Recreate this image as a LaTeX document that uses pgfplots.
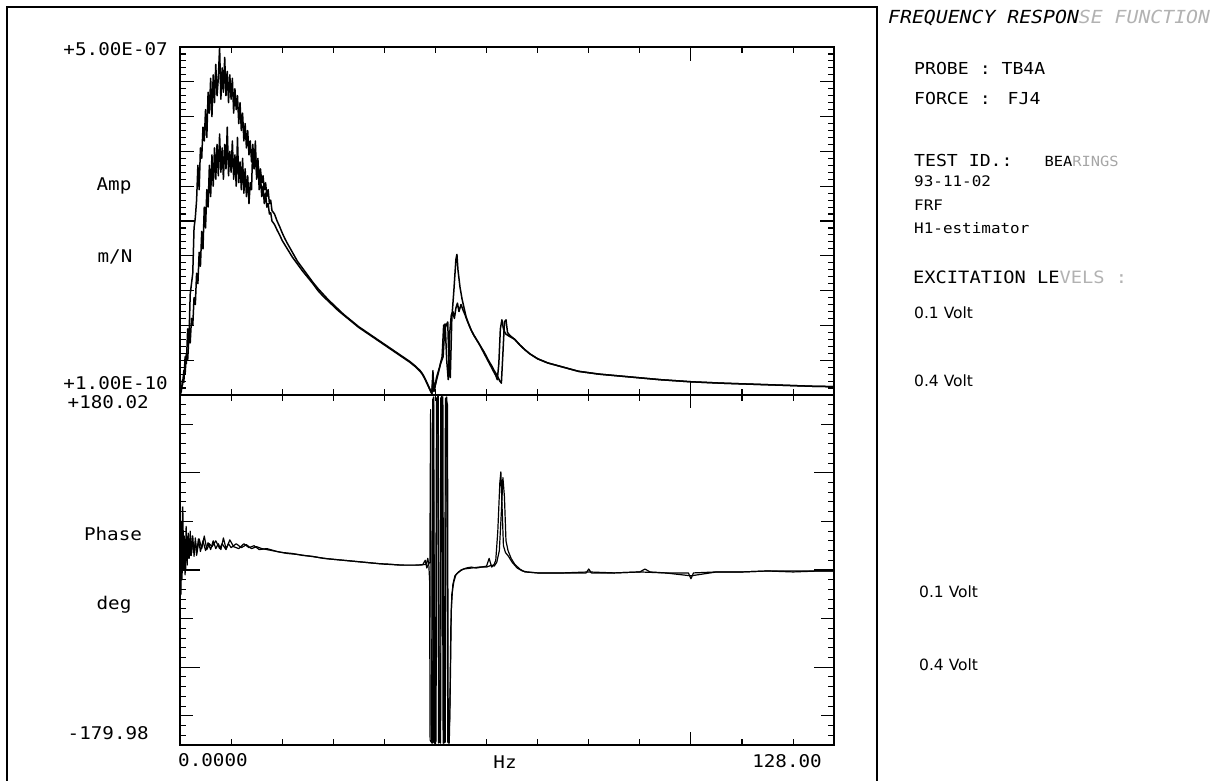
\documentclass[border=0pt]{standalone}
\usepackage{pgfplots}
\pgfplotsset{compat=1.18}
\usepackage{pgfplotstable}
\usepackage{fontspec}
\setmainfont{DejaVu Sans Mono}[FakeStretch=1.1]
\newfontfamily\plotfont{DejaVu Sans Mono}[FakeStretch=1.1]
\newfontfamily\voltfont{DejaVu Sans}

\pgfplotstableread{
f v
0 0
0.25 0.05
0.5 0.22
0.75 0.18
1 0.55
1.25 0.45
1.5 0.95
1.75 0.8
2 1.45
2.25 1.6
2.5 1.75
2.75 2.4
3 2.55
3.25 2.8
3.5 3.3
3.75 2.95
4 3.55
4.25 3.4
4.5 3.85
4.75 3.65
5 4.1
5.25 3.7
5.5 4.35
5.75 4.05
6 4.55
6.25 4.0
6.5 4.6
6.75 4.2
7 4.75
7.25 4.3
7.5 4.55
7.75 5.0
8 4.25
8.25 4.7
8.5 4.35
8.75 4.85
9 4.3
9.25 4.65
9.5 4.2
9.75 4.6
10 4.25
10.25 4.55
10.5 4.05
10.75 4.4
11 4.1
11.25 4.3
11.5 3.9
11.75 4.2
12 3.8
12.25 4.05
12.5 3.65
12.75 3.9
13 3.55
13.25 3.8
13.5 3.45
13.75 3.65
14 3.35
14.25 3.55
14.5 3.25
14.75 3.45
15 3.2
15.25 3.35
15.5 3.1
15.75 3.25
16 3.05
16.25 3.15
16.5 2.95
16.75 3.05
17 2.85
17.25 2.95
17.5 2.75
17.75 2.8
18 2.65
18.5 2.6
19 2.5
19.5 2.42
20 2.33
20.5 2.25
21 2.18
22 2.05
23 1.92
24 1.82
25 1.72
26 1.62
27 1.53
28 1.45
29 1.37
30 1.3
31 1.23
32 1.16
33 1.1
34 1.04
35 0.98
36 0.93
37 0.88
38 0.83
39 0.78
40 0.73
41 0.68
42 0.63
43 0.58
44 0.53
45 0.48
46 0.42
47 0.35
47.5 0.3
48 0.23
48.5 0.15
49 0.07
49.3 0.02
49.5 0.35
49.7 0.05
50 0.15
50.5 0.3
51 0.45
51.5 0.55
51.8 0.95
52.1 1.0
52.4 1.05
52.7 0.3
52.9 0.25
53.2 1.1
53.6 1.5
54 1.95
54.2 2.02
54.4 1.8
54.8 1.55
55.2 1.38
55.6 1.25
56 1.12
56.5 1.02
57 0.93
57.5 0.86
58 0.8
58.5 0.74
59 0.67
59.5 0.6
60 0.53
60.5 0.46
61 0.39
61.5 0.32
61.8 0.28
62.1 0.22
62.4 0.45
62.7 0.95
63 1.08
63.3 0.95
63.7 0.88
64.3 0.85
65 0.82
65.5 0.8
66.5 0.72
67.5 0.65
68.5 0.59
70 0.52
72 0.46
75 0.4
78 0.34
82 0.3
88 0.26
94 0.22
100 0.19
106 0.17
112 0.155
118 0.14
124 0.125
128 0.12
}\ampA

\pgfplotstableread{
f v
0 0
0.25 0.1
0.5 0.15
0.75 0.35
1 0.3
1.25 0.6
1.5 0.5
1.75 0.85
2 0.75
2.25 1.1
2.5 1.0
2.75 1.4
3 1.3
3.25 1.75
3.5 1.6
3.75 2.05
4 1.85
4.25 2.35
4.5 2.1
4.75 2.7
5 2.4
5.25 2.95
5.5 2.7
5.75 3.3
6 2.85
6.25 3.45
6.5 3.0
6.75 3.55
7 3.1
7.25 3.6
7.5 3.15
7.75 3.75
8 3.2
8.25 3.55
8.5 3.1
8.75 3.6
9 3.25
9.25 3.85
9.5 3.15
9.75 3.5
10 3.2
10.25 3.65
10.5 3.1
10.75 3.45
11 3.0
11.25 3.7
11.5 3.05
11.75 3.35
12 2.95
12.25 3.4
12.5 2.9
12.75 3.25
13 2.85
13.25 3.15
13.5 2.75
13.75 3.05
14 2.95
14.25 3.6
14.5 3.25
14.75 3.65
15 3.1
15.25 3.4
15.5 2.95
15.75 3.15
16 2.85
16.25 3.0
16.5 2.75
16.75 2.9
17 2.7
17.25 2.75
17.5 2.6
17.75 2.62
18 2.5
18.5 2.45
19 2.37
19.5 2.3
20 2.22
20.5 2.16
21 2.1
22 1.98
23 1.88
24 1.78
25 1.69
26 1.6
27 1.5
28 1.42
29 1.35
30 1.28
31 1.21
32 1.15
33 1.09
34 1.03
35 0.97
36 0.92
37 0.87
38 0.82
39 0.77
40 0.72
41 0.67
42 0.62
43 0.57
44 0.52
45 0.47
46 0.41
47 0.34
47.5 0.29
48 0.22
48.5 0.14
49 0.06
49.3 0.02
49.5 0.25
49.8 0.08
50.2 0.25
50.8 0.4
51.3 0.55
51.6 1.0
51.9 1.02
52.2 0.5
52.5 0.22
52.8 0.9
53.1 1.15
53.4 1.2
53.7 1.1
54 1.25
54.3 1.32
54.6 1.2
55 1.3
55.4 1.22
55.8 1.15
56.2 1.07
56.6 1.0
57 0.93
57.5 0.86
58 0.8
58.5 0.74
59 0.68
59.5 0.62
60 0.55
60.5 0.48
61 0.42
61.5 0.35
62 0.29
62.6 0.2
62.9 0.17
63.2 0.6
63.5 1.05
63.8 1.08
64.1 0.9
64.5 0.86
65 0.83
65.5 0.8
66.5 0.72
67.5 0.65
68.5 0.59
70 0.52
72 0.46
75 0.4
78 0.34
82 0.3
88 0.26
94 0.22
100 0.19
106 0.17
112 0.155
118 0.14
124 0.125
128 0.12
}\ampB

\pgfplotstableread{
f p
0 20
0.1 65
0.2 -25
0.3 50
0.4 -10
0.55 40
0.7 0
0.85 35
1 -5
1.2 45
1.4 5
1.6 38
1.8 12
2 40
2.2 15
2.5 35
2.75 14
3 33
3.3 18
3.6 32
4 19
4.5 30
5 20
5.5 28
6 21
6.5 30
7 22
7.5 27
8 21
8.5 33
9 22
9.5 27
10 23
11 27
12 23
13 26
14 22
15 24
16 22
17 21
18 20
20 18
22 17
24 15
26 14
28 12
30 11
32 10
34 9
36 8
38 7
40 6
42 5.5
44 5
46 5
47.5 5.5
48 10
48.3 2
48.6 6
48.9 8
49.05 165
49.2 -176
49.45 -178
49.6 170
49.75 -177
50.0 -179
50.2 176
50.45 178
50.6 -178
50.85 -176
51.05 177
51.3 179
51.5 -178
51.75 -177
51.95 176
52.2 178
52.4 -177
52.6 -178
52.8 -150
53.0 -60
53.2 -25
53.6 -12
54 -5
55 0
56 2
57 3
58 2
59 3
60 4
60.5 12
61 3
61.5 6
61.8 10
62.2 40
62.6 90
62.8 101
63 70
63.3 25
63.7 18
64.3 14
65 8
66 2
67 -1
68 -2
70 -3
75 -3
79.5 -3
80 1
80.5 -3
85 -3
90 -2
91 1
92 -2
95 -3
99.5 -3
100 -9
100.5 -3
105 -2
110 -2
115 -1
120 -1
125 -1
128 -1
}\phA

\pgfplotstableread{
f p
0 25
0.1 -20
0.25 50
0.4 0
0.55 65
0.7 10
0.9 30
1.1 0
1.3 35
1.6 12
1.9 32
2.1 15
2.4 35
2.6 18
3 28
3.25 15
3.75 32
4.25 22
4.75 35
5.25 21
5.75 27
6.25 24
7 30
7.75 22
8.25 27
9 21
9.75 31
10.5 24
11.5 22
12.5 27
13.5 23
14.5 25
15.5 21
17 22
19 19
21 17
23 16
25 14.5
27 13
29 11.5
31 10.5
33 9.5
35 8.5
37 7.5
39 6.5
41 6
43 5
45 5
47 5
48.2 6
48.5 12
48.7 5
48.85 -10
48.95 -175
49.3 -178
49.45 175
49.65 178
49.85 -178
50.1 -176
50.3 177
50.55 179
50.75 -177
51.0 -178
51.2 176
51.45 178
51.6 -178
51.9 -177
52.1 175
52.35 170
52.5 -176
52.7 -178
52.9 -120
53.1 -40
53.4 -15
53.8 -6
54.5 -2
55.5 1
57 2
58.5 3
60 3
61 5
61.5 4
62 8
62.5 20
62.9 60
63.2 95
63.5 75
63.8 30
64.2 20
64.8 12
65.5 6
66.5 1
67.5 -2
70 -3
75 -3
80 -2
85 -3
90 -2
95 -3
100 -6
105 -2
110 -2
115 -1
120 -2
125 -1
128 -1
}\phB

\pgfplotsset{
  frfax/.style={scale only axis, width=654pt, xmin=0, xmax=128,
    tick align=inside, xticklabels={}, yticklabels={},
    major tick style={black, line width=1.1pt},
    minor tick style={black, line width=1.1pt},
    axis line style={line width=1.3pt},
    xtick={100}, minor xtick={10,20,...,120},
    minor tick length=6pt},
  curve/.style={black, line width=1.5pt, line join=round, no markers},
}

\begin{document}
\begin{tikzpicture}[x=1pt,y=1pt]
\path[use as bounding box] (0,0) rectangle (1223,780);
\draw[line width=1.3pt] (7,-2) -- (7,773) -- (877,773) -- (877,-2);

% upper panel: amplitude (units of 1e-7 m/N)
\begin{axis}[frfax, at={(180pt,385pt)}, anchor=south west, height=348pt,
  ymin=0, ymax=5, ytick={0,0.5,...,5}, minor y tick num=4, major tick length=14pt]
  \addplot[curve] table[x=f,y=v] {\ampA};
  \addplot[curve] table[x=f,y=v] {\ampB};
\end{axis}

% lower panel: phase
\begin{axis}[frfax, at={(180pt,35pt)}, anchor=south west, height=350pt,
  ymin=-180, ymax=180, ytick={-150,-50,50,150}, minor ytick={-170,-160,...,170},
  major tick length=13pt,
  extra y ticks={-100,0,100}, extra y tick labels={},
  extra y tick style={major tick length=20pt, major tick style={black, line width=1.1pt}}]
  \addplot[curve, line width=1.2pt] table[x=f,y=p] {\phA};
  \addplot[curve, line width=1.2pt] table[x=f,y=p] {\phB};
\end{axis}

% axis texts
\begin{scope}[every node/.style={inner sep=0pt, font=\plotfont\fontsize{17.5}{20}\selectfont}]
\node[anchor=east] at (168,731) {+5.00E-07};
\node at (114,594) {Amp};
\node at (115,523) {m/N};
\node[anchor=east] at (168,397) {+1.00E-10};
\node[anchor=east] at (149,378) {+180.02};
\node at (113,246) {Phase};
\node at (114,175) {deg};
\node[anchor=east] at (149,47) {-179.98};
\node[anchor=west] at (178,20) {0.0000};
\node at (505,18) {Hz};
\node[anchor=east] at (822,19) {128.00};
\end{scope}

% right panel texts
\begin{scope}[every node/.style={inner sep=0pt, anchor=west}]
\node at (888,762) {\plotfont\itshape\fontsize{18}{20}\selectfont FREQUENCY RESPON\textcolor{black!30}{SE FUNCTION}};
\node at (914,712) {\plotfont\fontsize{16.5}{20}\selectfont PROBE : TB4A};
\node at (914,682) {\plotfont\fontsize{16.5}{20}\selectfont FORCE :\hspace{17pt}FJ4};
\node at (914,620) {\plotfont\fontsize{16.5}{20}\selectfont TEST ID.:\hspace{32pt}\fontsize{14}{16}\selectfont BEA\textcolor{black!35}{RINGS}};
\node at (914,599) {\plotfont\fontsize{14.5}{16}\selectfont 93-11-02};
\node at (914,575) {\plotfont\fontsize{14.5}{16}\selectfont FRF};
\node at (914,552) {\plotfont\fontsize{14.5}{16}\selectfont H1-estimator};
\node at (913,503) {\plotfont\fontsize{17}{20}\selectfont EXCITATION LE\textcolor{black!30}{VELS :}};
\node at (914,467) {\voltfont\fontsize{15.5}{18}\selectfont 0.1 Volt};
\node at (914,399) {\voltfont\fontsize{15.5}{18}\selectfont 0.4 Volt};
\node at (919,188) {\voltfont\fontsize{15.5}{18}\selectfont 0.1 Volt};
\node at (919,115) {\voltfont\fontsize{15.5}{18}\selectfont 0.4 Volt};
\end{scope}
\end{tikzpicture}
\end{document}
